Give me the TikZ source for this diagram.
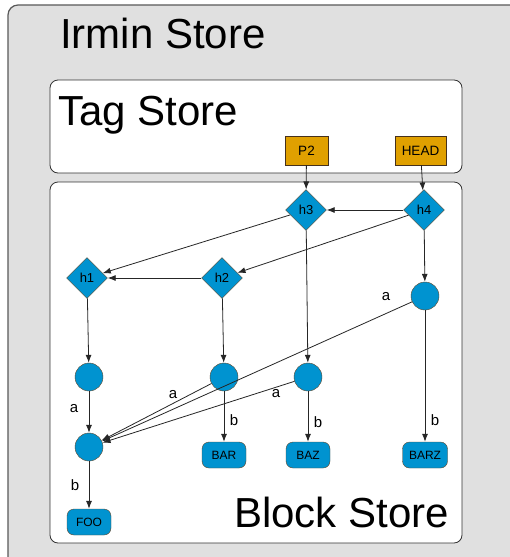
\documentclass[tikz,border=0pt]{standalone}
\usepackage{fontspec}
\setmainfont{Liberation Sans}
\usetikzlibrary{shapes.geometric,arrows.meta}
\definecolor{bg}{RGB}{224,224,224}
\definecolor{blu}{RGB}{0,147,208}
\definecolor{org}{RGB}{224,160,0}
\definecolor{brd}{RGB}{100,70,40}
\begin{document}
\begin{tikzpicture}[x=1pt,y=-1pt,
 hash/.style={diamond, fill=blu, draw=brd, minimum width=41pt, minimum height=41pt, inner sep=0pt, font=\fontsize{13}{15}\selectfont},
 blob/.style={circle, fill=blu, draw=brd, minimum size=28pt, inner sep=0pt},
 leaf/.style={rectangle, rounded corners=7pt, fill=blu, draw=brd, minimum width=44pt, minimum height=26pt, inner sep=0pt, font=\fontsize{12}{14}\selectfont},
 tagbox/.style={rectangle, fill=org, draw=brd!70!black, minimum height=29pt, inner sep=0pt, font=\fontsize{13.5}{15}\selectfont},
 conn/.style={draw=black!85, line width=0.8pt, -{Latex[length=8pt,width=6pt]}},
 lbl/.style={font=\fontsize{15}{17}\selectfont, inner sep=0pt},
 store/.style={draw=black!80, fill=white, rounded corners=8pt, line width=0.8pt},
 title/.style={font=\fontsize{42}{50}\selectfont, inner sep=0pt}
]
\useasboundingbox (0,0) rectangle (509,557);
\fill[white] (0,0) rectangle (509,557);
\draw[fill=bg, draw=black!65, line width=1.2pt, rounded corners=10pt] (8,5) rectangle (525,575);
\draw[store] (50,80) rectangle (462,173);
\draw[store] (50,182) rectangle (462,543);
\node[title, anchor=base west] (irmin) at (60,48) {Irmin Store};
\node[title, anchor=base west] (tagt) at (58,125) {Tag Store};
\node[title, anchor=base east] (blockt) at (449,527) {Block Store};
% tags
\node[tagbox, minimum width=43pt] (p2) at (306.5,150.5) {P2};
\node[tagbox, minimum width=51pt] (head) at (420.5,150.5) {HEAD};
% commits
\node[hash] (h3) at (306,210) {h3};
\node[hash] (h4) at (424,210) {h4};
\node[hash] (h1) at (87,278) {h1};
\node[hash] (h2) at (222,278) {h2};
% trees
\node[blob] (c4) at (425,296) {};
\node[blob] (c1) at (89,377) {};
\node[blob] (c2) at (224,377) {};
\node[blob] (c3) at (308,377) {};
\node[blob] (c5) at (89,447) {};
% blobs
\node[leaf] (foo) at (89,522) {FOO};
\node[leaf] (bar) at (224,455) {BAR};
\node[leaf] (baz) at (308,455) {BAZ};
\node[leaf, minimum width=45pt] (barz) at (425,455) {BARZ};
% edges
\draw[conn] (p2) -- (h3);
\draw[conn] (head) -- (h4);
\draw[conn] (h4) -- (h3);
\draw[conn] (h3) -- (h1);
\draw[conn] (h4) -- (h2);
\draw[conn] (h2) -- (h1);
\draw[conn] (h1) -- (c1);
\draw[conn] (h2) -- (c2);
\draw[conn] (h3) -- (c3);
\draw[conn] (h4) -- (c4);
\draw[conn] (c1) -- (c5);
\draw[conn] (c2) -- (c5);
\draw[conn] (c3) -- (c5);
\draw[conn] (c4) -- (c5);
\draw[conn] (c5) -- (foo);
\draw[conn] (c2) -- (bar);
\draw[conn] (c3) -- (baz);
\draw[conn] (c4) -- (barz);
% labels
\node[lbl] (la1) at (74,409) {a};
\node[lbl] (la2) at (173,395) {a};
\node[lbl] (la3) at (276,394) {a};
\node[lbl] (la4) at (386,297) {a};
\node[lbl] (lb1) at (75,485) {b};
\node[lbl] (lb2) at (234,420) {b};
\node[lbl] (lb3) at (318,422) {b};
\node[lbl] (lb4) at (435,420) {b};
\end{tikzpicture}
\end{document}
